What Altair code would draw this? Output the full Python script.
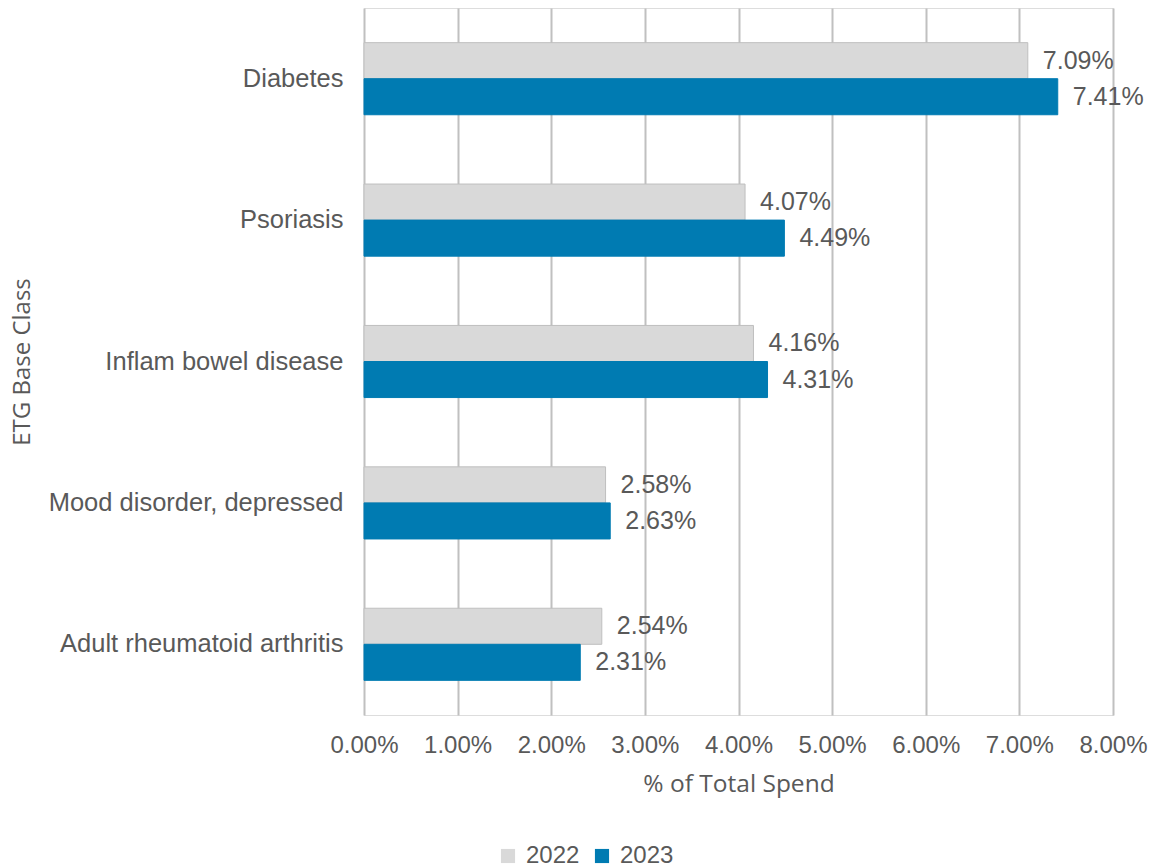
import altair as alt
import pandas as pd

categories = ["Diabetes", "Psoriasis", "Inflam bowel disease",
              "Mood disorder, depressed", "Adult rheumatoid arthritis"]
years = ["2022", "2023"]
values_2022 = [7.09, 4.07, 4.16, 2.58, 2.54]
values_2023 = [7.41, 4.49, 4.31, 2.63, 2.31]

rows = []
for c, v in zip(categories, values_2022):
    rows.append({"cat": c, "year": "2022", "val": v / 100, "label": f"{v:.2f}%"})
for c, v in zip(categories, values_2023):
    rows.append({"cat": c, "year": "2023", "val": v / 100, "label": f"{v:.2f}%"})
df = pd.DataFrame(rows)

FONT = "Liberation Sans"
TXT = "#595959"

y_enc = alt.Y("cat:N", sort=categories,
              scale=alt.Scale(paddingInner=0.49, paddingOuter=0.245),
              axis=alt.Axis(title="ETG Base Class", titleFont="Open Sans",
                            titleFontSize=24, titleFontWeight="normal",
                            titleColor=TXT, titleX=-342, titleBaseline="middle",
                            titleAngle=-90,
                            labelFont=FONT, labelFontSize=25.5, labelColor=TXT,
                            labelPadding=21, labelLimit=0, ticks=False,
                            domain=False, grid=False))
x_enc = alt.X("val:Q", scale=alt.Scale(domain=[0, 0.08]),
              axis=alt.Axis(format=".2%", values=[i / 100 for i in range(9)],
                            title="% of Total Spend", titleFont="Open Sans",
                            titleFontSize=24.5, titleFontWeight="normal",
                            titleColor=TXT, titlePadding=15,
                            labelFont=FONT, labelFontSize=24, labelColor=TXT,
                            labelPadding=18, labelOverlap=False, labelFlush=False,
                            ticks=False, domain=False, grid=True,
                            gridColor="#c0c0c0", gridWidth=2))
yoff = alt.YOffset("year:N", sort=years)

bars = alt.Chart(df).mark_bar(strokeWidth=1).encode(
    x=x_enc, y=y_enc, yOffset=yoff,
    color=alt.Color("year:N", sort=years,
                    scale=alt.Scale(domain=years, range=["#d9d9d9", "#007bb2"]),
                    legend=alt.Legend(title=None, orient="none", direction="horizontal",
                                      legendX=132, legendY=836,
                                      labelFont=FONT, labelFontSize=24,
                                      labelColor=TXT, symbolType="square",
                                      symbolSize=200, symbolStrokeWidth=0,
                                      columnPadding=10, labelOffset=6)),
    stroke=alt.Stroke("year:N", sort=years,
                      scale=alt.Scale(domain=years, range=["#bfbfbf", "#007bb2"]),
                      legend=None),
)

labels = alt.Chart(df).mark_text(align="left", baseline="middle", dx=15,
                                 font=FONT, fontSize=25, color=TXT).encode(
    x="val:Q", y=alt.Y("cat:N", sort=categories), yOffset=yoff, text="label:N")

chart = (bars + labels).properties(
    width=749, height=707,
    autosize=alt.AutoSizeParams(type="none"),
    padding={"left": 364, "top": 8, "right": 39, "bottom": 153},
).configure_view(stroke=None).configure(background="white")

chart.save("out.html", embed_options={"renderer": "svg", "actions": False})
